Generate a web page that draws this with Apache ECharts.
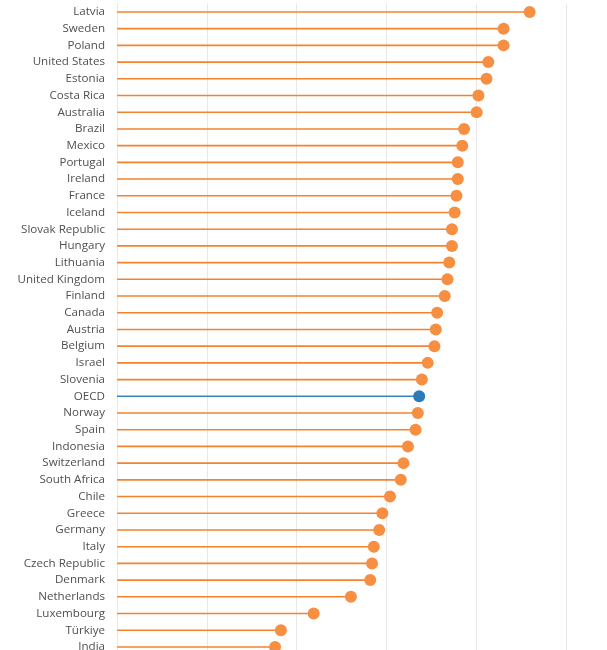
<!DOCTYPE html>
<html>
<head>
<meta charset="utf-8">
<script src="https://cdn.jsdelivr.net/npm/echarts@6/dist/echarts.min.js"></script>
<style>
html,body{margin:0;padding:0;background:#fff;}
#chart{width:607px;height:650px;}
</style>
</head>
<body>
<div id="chart"></div>
<script>
var categories = ["Latvia","Sweden","Poland","United States","Estonia","Costa Rica","Australia","Brazil","Mexico","Portugal","Ireland","France","Iceland","Slovak Republic","Hungary","Lithuania","United Kingdom","Finland","Canada","Austria","Belgium","Israel","Slovenia","OECD","Norway","Spain","Indonesia","Switzerland","South Africa","Chile","Greece","Germany","Italy","Czech Republic","Denmark","Netherlands","Luxembourg","Türkiye","India"];
var values = [91.9,86.1,86.1,82.7,82.3,80.5,80.1,77.3,76.9,75.9,75.9,75.6,75.2,74.6,74.6,74.0,73.6,73.0,71.3,71.0,70.7,69.2,67.9,67.3,67.0,66.5,64.8,63.8,63.2,60.8,59.1,58.4,57.2,56.8,56.4,52.1,43.8,36.5,35.2];
var highlight = "OECD";
var xTicks = [0,20,40,60,80,100];

var orangeLine = "#F5822F", orangeDot = "#F78F42";
var blueLine = "#3A87BE", blueDot = "#2B7BB6";

var barData = values.map(function(v,i){
  var hl = categories[i] === highlight;
  return {value: v, itemStyle: {color: hl ? blueLine : orangeLine}};
});
var dotData = values.map(function(v,i){
  var hl = categories[i] === highlight;
  return {value: [v, categories[i]], itemStyle: {color: hl ? blueDot : orangeDot, opacity: 1}};
});

var chart = echarts.init(document.getElementById('chart'), null, {renderer:'canvas'});
chart.setOption({
  animation: false,
  grid: {left: 117, right: 41, top: 3.6, height: 651.7, containLabel: false, outerBoundsMode: 'none'},
  xAxis: {
    type: 'value', min: xTicks[0], max: xTicks[xTicks.length-1], interval: 20,
    axisLabel: {show: false}, axisTick: {show: false}, axisLine: {show: false},
    splitLine: {show: true, lineStyle: {color: '#e8e8e8', width: 1}}
  },
  yAxis: {
    type: 'category', data: categories, inverse: true,
    axisTick: {show: false},
    axisLine: {show: true, lineStyle: {color: '#e8e8e8', width: 1}},
    axisLabel: {color: '#505050', fontSize: 11.6, fontFamily: 'Open Sans', margin: 12}
  },
  series: [
    {type: 'bar', data: barData, barWidth: 1.6, silent: true},
    {type: 'scatter', data: dotData, symbol: 'circle', symbolSize: 12, silent: true}
  ]
});
</script>
</body>
</html>
